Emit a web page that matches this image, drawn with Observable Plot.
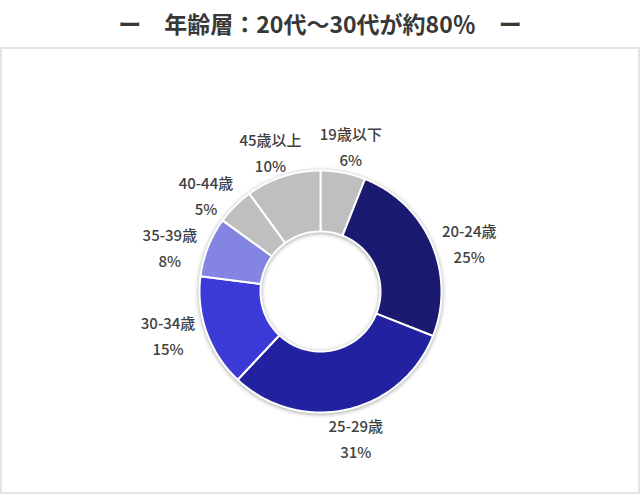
<!DOCTYPE html>
<html>
<head>
<meta charset="utf-8">
<script src="https://cdn.jsdelivr.net/npm/d3@7"></script>
<script src="https://cdn.jsdelivr.net/npm/@observablehq/plot@0.6"></script>
<style>
  html, body { margin: 0; padding: 0; background: #fff; }
  #title {
    height: 47px; line-height: 46px; text-align: center;
    font-family: "Noto Sans CJK JP", sans-serif; font-weight: bold;
    font-size: 23px; color: #383838; white-space: pre;
  }
  #box {
    width: 640px; height: 447px; box-sizing: border-box;
    border: 2px solid #e4e4e4; overflow: hidden;
  }
  #box svg { display: block; }
</style>
</head>
<body>
<div id="title">ー　年齢層：20代〜30代が約80％　ー</div>
<div id="box"></div>
<script>
// ---- data ----
const categories = ["19歳以下", "20-24歳", "25-29歳", "30-34歳", "35-39歳", "40-44歳", "45歳以上"];
const shares = [6, 25, 31, 15, 8, 5, 10];
const colors = ["#bfbfbf", "#1a1a70", "#2222a0", "#3c3ad6", "#8484e2", "#bfbfbf", "#bfbfbf"];

// ---- layout constants ----
const W = 636, H = 443;
const CX = 318, CY = 242;
const R_OUT = 121, R_IN = 60;
const LRX = 162;

const total = d3.sum(shares);
let acc = 0;
const slices = categories.map((c, i) => {
  const a0 = acc / total * 2 * Math.PI;
  acc += shares[i];
  const a1 = acc / total * 2 * Math.PI;
  return {cat: c, value: shares[i], color: colors[i], a0, a1, mid: (a0 + a1) / 2};
});

// polygon points for each annular sector (angle measured clockwise from 12 o'clock)
const pts = [];
for (const s of slices) {
  const n = Math.max(8, Math.ceil((s.a1 - s.a0) / (Math.PI / 180)));
  for (let k = 0; k <= n; k++) {
    const a = s.a0 + (s.a1 - s.a0) * k / n;
    pts.push({cat: s.cat, color: s.color, x: R_OUT * Math.sin(a), y: -R_OUT * Math.cos(a)});
  }
  for (let k = n; k >= 0; k--) {
    const a = s.a0 + (s.a1 - s.a0) * k / n;
    pts.push({cat: s.cat, color: s.color, x: R_IN * Math.sin(a), y: -R_IN * Math.cos(a)});
  }
  const a = s.a0;
  pts.push({cat: s.cat, color: s.color, x: R_OUT * Math.sin(a), y: -R_OUT * Math.cos(a)});
}

// labels placed outside the ring, along each slice's mid-angle
const labels = slices.map(s => {
  const c = Math.cos(s.mid);
  const ry = 110 + 40 * Math.abs(c);
  return {
    text: `${s.cat}\n${s.value}%`,
    x: LRX * Math.sin(s.mid),
    y: -ry * c
  };
});

const chart = Plot.plot({
  width: W, height: H,
  margin: 0,
  x: {domain: [-CX, W - CX], axis: null},
  y: {domain: [-CY, H - CY], reverse: true, axis: null},
  color: {type: "identity"},
  marks: [
    Plot.line(pts, {x: "x", y: "y", z: "cat", fill: "color", stroke: "#ffffff", strokeWidth: 2, curve: "linear"}),
    Plot.text(labels, {x: "x", y: "y", text: "text", lineHeight: 1.75, lineAnchor: "middle",
      fontSize: 15, fontWeight: 500, fill: "#404040", fontFamily: "Noto Sans CJK JP"})
  ]
});
chart.style.fontFamily = "'Noto Sans CJK JP', sans-serif";
const lineG = chart.querySelector('g[aria-label="line"]');
if (lineG) lineG.style.filter = "drop-shadow(0px 1px 2px rgba(0,0,0,0.35))";
document.getElementById("box").appendChild(chart);
</script>
</body>
</html>
